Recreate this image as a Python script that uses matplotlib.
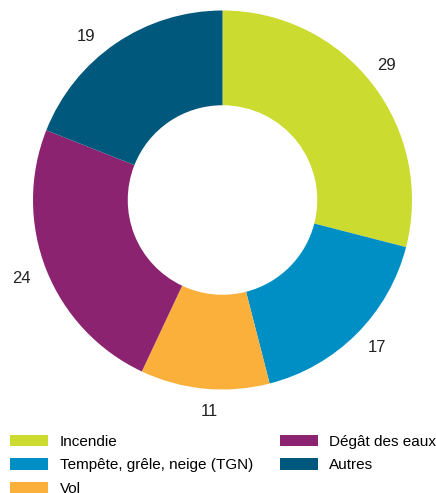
import matplotlib
matplotlib.use("Agg")
import numpy as np
import matplotlib.pyplot as plt

plt.rcParams['font.family'] = ['Liberation Sans', 'DejaVu Sans']

categories = ["Incendie", "Tempête, grêle, neige (TGN)", "Vol", "Dégât des eaux", "Autres"]
values = [29, 17, 11, 24, 19]
colors = ["#CBDB2F", "#008FC5", "#FBB03B", "#8B2370", "#00587C"]
# small angular nudges (degrees) for value label placement (layout only)
label_nudge = [1.4, 1.3, 1.75, -0.2, 5.5]
label_dist = [1.12, 1.127, 1.118, 1.14, 1.124]

W, H = 436, 493
fig = plt.figure(figsize=(W / 100, H / 100), dpi=100)
cx, cy, r = 222.5, 200, 189.5
ax = fig.add_axes([(cx - r) / W, 1 - (cy + r) / H, 2 * r / W, 2 * r / H])

wedges, _ = ax.pie(values, colors=colors, startangle=90, counterclock=False,
                   wedgeprops=dict(width=0.5, linewidth=0))
for w, v, dn, d in zip(wedges, values, label_nudge, label_dist):
    ang = np.deg2rad((w.theta1 + w.theta2) / 2 + dn)
    ax.text(d * np.cos(ang), d * np.sin(ang), str(v), ha="center", va="center",
            fontsize=12, color="#222222")
ax.set_xlim(-1, 1)
ax.set_ylim(-1, 1)
ax.set_aspect("equal")
ax.axis("off")

fig.legend(wedges, categories, loc="upper left", ncol=2,
           bbox_to_anchor=(10 / W, 1 - 435 / H), frameon=False, borderpad=0,
           fontsize=11, handlelength=2.5, handleheight=0.78, handletextpad=0.75,
           columnspacing=1.75, labelspacing=0.61, borderaxespad=0)

fig.savefig("out.png", dpi=100)
